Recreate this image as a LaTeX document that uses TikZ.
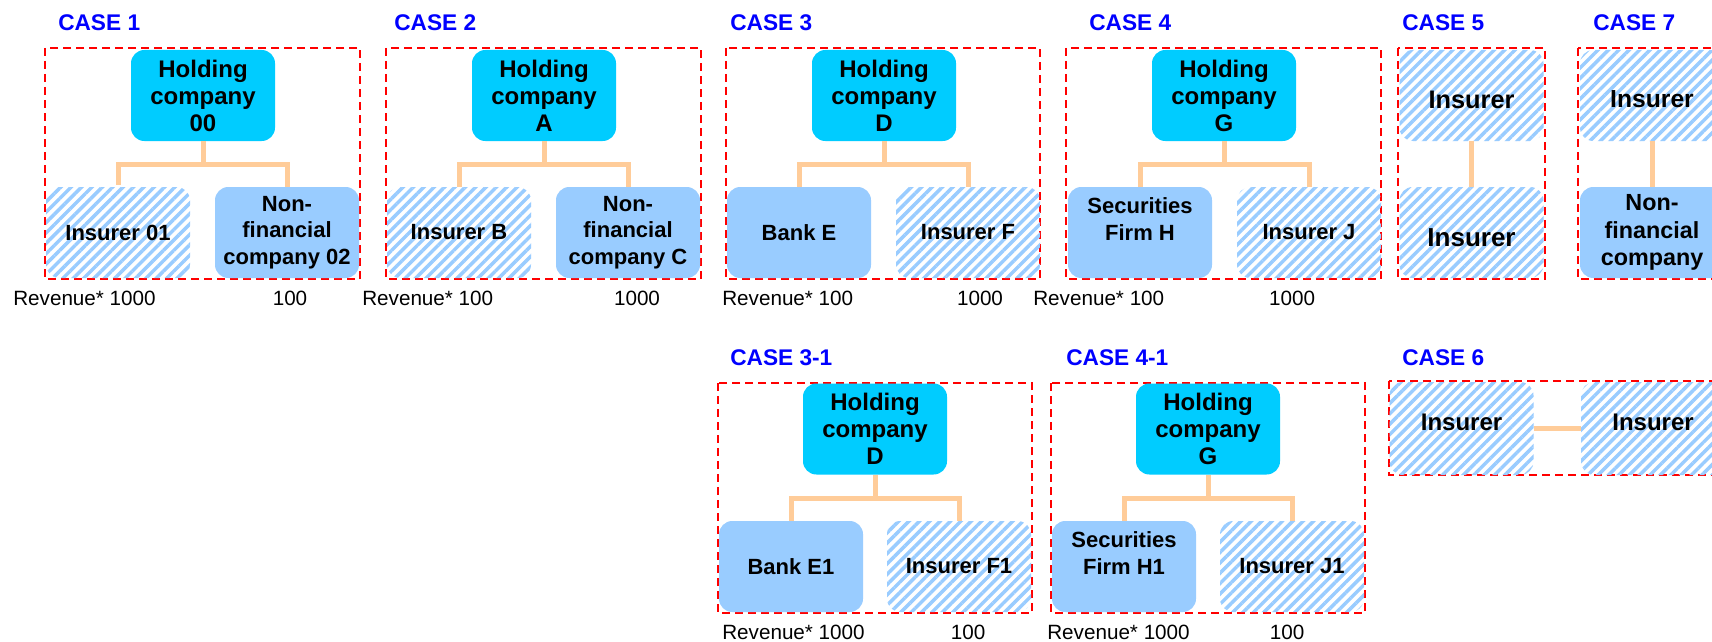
\documentclass[tikz,border=0pt]{standalone}
\usepackage{fontspec}
\setmainfont{Liberation Sans}
\usetikzlibrary{patterns.meta}
\definecolor{holdc}{HTML}{00CCFF}
\definecolor{subc}{HTML}{99CCFF}
\definecolor{linec}{HTML}{FFCC99}
\definecolor{casec}{HTML}{0000FF}
\newcommand{\shifttext}[2]{\raisebox{#1}[\height][\depth]{#2}}
\tikzset{
  box/.style={rectangle, rounded corners=10pt, minimum width=108pt, minimum height=68.25pt,
    inner sep=0pt, align=center, font=\bfseries\fontsize{16.5}{20}\selectfont},
  hold/.style={box, fill=holdc, font=\bfseries\fontsize{18}{20.25}\selectfont},
  sub/.style={box, fill=subc},
  ins/.style={box, pattern={Lines[angle=45,distance=5.5pt,line width=2.6pt]}, pattern color=subc},
  caselbl/.style={anchor=base west, text=casec, inner sep=0pt, font=\bfseries\fontsize{17}{20}\selectfont},
  rev/.style={anchor=base west, inner sep=0pt, font=\fontsize{15.5}{18}\selectfont},
  revn/.style={anchor=base, inner sep=0pt, font=\fontsize{15.5}{18}\selectfont},
  caseframe/.style={draw=red, line width=1.5pt, dash pattern=on 6pt off 3.75pt},
  conn/.style={draw=linec, line width=3.75pt}
}
\begin{document}
\begin{tikzpicture}[x=0.75pt,y=-0.75pt]
\useasboundingbox (0,0) rectangle (1712,642);
\fill[white] (0,0) rectangle (1712,642);
\clip (0,0) rectangle (1712,642);

% ---------- CASE 1
\node[caselbl] (l1) at (58,31) {CASE 1};
\draw[caseframe] (45,48) rectangle (360,279);
\node[hold] (h1) at (203,95.5) {Holding\\company\\00};
\node[ins] (a1) at (118,232.5) {Insurer 01};
\node[sub] (b1) at (287,232.5) {Non-\\financial\\company 02};
\draw[conn] (h1.south) -- ++(0,23) -| (a1.north);
\draw[conn] (h1.south) -- ++(0,23) -| (b1.north);
\node[rev] (r1) at (13,305.5) {Revenue* 1000};
\node[revn] (s1) at (290,305.5) {100};

% ---------- CASE 2
\node[caselbl] (l2) at (394,31) {CASE 2};
\draw[caseframe] (386,48) rectangle (701,279);
\node[hold] (h2) at (544,95.5) {Holding\\company\\A};
\node[ins] (a2) at (459,232.5) {Insurer B};
\node[sub] (b2) at (628,232.5) {Non-\\financial\\company C};
\draw[conn] (h2.south) -- ++(0,23) -| (a2.north);
\draw[conn] (h2.south) -- ++(0,23) -| (b2.north);
\node[rev] (r2) at (362,305.5) {Revenue* 100};
\node[revn] (s2) at (637,305.5) {1000};

% ---------- CASE 3
\node[caselbl] (l3) at (730,31) {CASE 3};
\draw[caseframe] (726,48) rectangle (1040,279);
\node[hold] (h3) at (884,95.5) {Holding\\company\\D};
\node[sub] (a3) at (799,232.5) {Bank E};
\node[ins] (b3) at (968,232.5) {Insurer F};
\draw[conn] (h3.south) -- ++(0,23) -| (a3.north);
\draw[conn] (h3.south) -- ++(0,23) -| (b3.north);
\node[rev] (r3) at (722,305.5) {Revenue* 100};
\node[revn] (s3) at (980,305.5) {1000};

% ---------- CASE 4
\node[caselbl] (l4) at (1089,31) {CASE 4};
\draw[caseframe] (1066,48) rectangle (1381,279);
\node[hold] (h4) at (1224,95.5) {Holding\\company\\G};
\node[sub] (a4) at (1140,232.5) {Securities\\Firm H\\\mbox{}};
\node[ins] (b4) at (1309,232.5) {Insurer J};
\draw[conn] (h4.south) -- ++(0,23) -| (a4.north);
\draw[conn] (h4.south) -- ++(0,23) -| (b4.north);
\node[rev] (r4) at (1033,305.5) {Revenue* 100};
\node[revn] (s4) at (1292,305.5) {1000};

% ---------- CASE 5
\node[caselbl] (l5) at (1402,31) {CASE 5};
\draw[caseframe] (1398,48) rectangle (1545,279);
\node[ins, font=\bfseries\fontsize{19}{22}\selectfont] (a5) at (1471.5,95.5) {\shifttext{-3pt}{Insurer}};
\node[ins, font=\bfseries\fontsize{19.5}{22}\selectfont] (b5) at (1471.5,232.5) {\shifttext{-3.75pt}{Insurer}};
\draw[conn] (a5.south) -- (b5.north);

% ---------- CASE 7
\node[caselbl] (l7) at (1593,31) {CASE 7};
\draw[caseframe] (1578,48) rectangle (1745,279);
\node[ins, font=\bfseries\fontsize{18.5}{22}\selectfont] (a7) at (1652,95.5) {\shifttext{-3pt}{Insurer}};
\node[sub, font=\bfseries\fontsize{17.5}{20.6}\selectfont] (b7) at (1652,232.5) {Non-\\financial\\company};
\draw[conn] (a7.south) -- (b7.north);

% ---------- CASE 3-1
\node[caselbl] (l31) at (730,365) {CASE 3-1};
\draw[caseframe] (718,383) rectangle (1032,613);
\node[hold] (h31) at (875,429) {Holding\\company\\D};
\node[sub] (a31) at (791,566.5) {Bank E1};
\node[ins] (b31) at (959,566.5) {Insurer F1};
\draw[conn] (h31.south) -- ++(0,23.5) -| (a31.north);
\draw[conn] (h31.south) -- ++(0,23.5) -| (b31.north);
\node[rev] (r31) at (722,639) {Revenue* 1000};
\node[revn] (s31) at (968,639) {100};

% ---------- CASE 4-1
\node[caselbl] (l41) at (1066,365) {CASE 4-1};
\draw[caseframe] (1051,383) rectangle (1365,613);
\node[hold] (h41) at (1208,429) {Holding\\company\\G};
\node[sub] (a41) at (1124,566.5) {Securities\\Firm H1\\\mbox{}};
\node[ins] (b41) at (1292,566.5) {Insurer J1};
\draw[conn] (h41.south) -- ++(0,23.5) -| (a41.north);
\draw[conn] (h41.south) -- ++(0,23.5) -| (b41.north);
\node[rev] (r41) at (1047,639) {Revenue* 1000};
\node[revn] (s41) at (1287,639) {100};

% ---------- CASE 6
\node[caselbl] (l6) at (1402,365) {CASE 6};
\draw[caseframe] (1389,381) rectangle (1745,475);
\node[ins, minimum height=69.75pt, font=\bfseries\fontsize{18}{22}\selectfont] (a6) at (1461.5,428.5) {\shifttext{4.5pt}{Insurer}};
\node[ins, minimum height=69.75pt, font=\bfseries\fontsize{18}{22}\selectfont] (b6) at (1653,428.5) {\shifttext{4.5pt}{Insurer}};
\draw[conn] (a6.east) -- (b6.west);
\end{tikzpicture}
\end{document}
